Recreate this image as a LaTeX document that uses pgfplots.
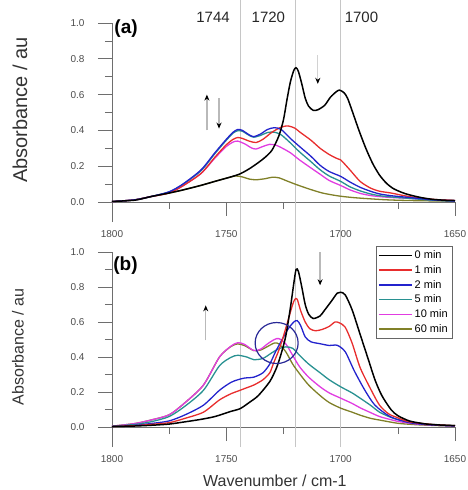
\documentclass[border=0pt]{standalone}
\usepackage{fontspec}
\setmainfont{Liberation Sans}
\usepackage{pgfplots}
\pgfplotsset{compat=1.18}
\usetikzlibrary{arrows.meta}
\definecolor{cRed}{RGB}{232,45,45}
\definecolor{cBlue}{RGB}{35,35,205}
\definecolor{cTeal}{RGB}{40,145,145}
\definecolor{cMag}{RGB}{225,60,225}
\definecolor{cOlive}{RGB}{128,128,40}
\definecolor{cCirc}{RGB}{40,40,150}
\definecolor{axgray}{RGB}{110,110,110}

\tikzset{grarrow/.style={gray!55, line width=1.4pt, -{Stealth[black, length=6pt, width=5pt]}}}
\pgfplotsset{
  spec/.style={
    scale only axis, width=343pt,
    x dir=reverse, xmin=1650, xmax=1800, ymax=1.0,
    axis y line=left, axis x line=middle,
    hide obscured x ticks=false, hide obscured y ticks=false,
    axis line style={-, axgray, line width=0.6pt},
    xtick={1650,1700,1750,1800}, minor xtick={1675,1725,1775},
    ytick={0,0.2,0.4,0.6,0.8,1.0}, minor ytick={0.1,0.3,0.5,0.7,0.9},
    tick align=outside, major tick length=14pt, minor tick length=7pt,
    tick style={axgray, line width=0.6pt},
    /pgf/number format/assume math mode=true,
    /pgf/number format/1000 sep={},
    yticklabel style={/pgf/number format/fixed, /pgf/number format/fixed zerofill, /pgf/number format/precision=1},
    ticklabel style={font=\fontsize{10}{11}\selectfont, text=black!70},
    xticklabel style={yshift=-11pt},
    yticklabel style={xshift=-10pt},
    clip=false,
    every axis plot/.append style={line width=1.3pt, smooth, tension=0.45, no markers},
  },
  vline/.style={gray!45, line width=0.5pt, forget plot, sharp plot},
}

\begin{document}
\begin{tikzpicture}
% ---------------- panel (a)
\begin{axis}[spec, height=199pt, ymin=-0.112,
  ylabel={Absorbance / au},
  ylabel style={at={(axis description cs:-0.268,0.563)}, anchor=center, font=\fontsize{20}{22}\selectfont, text=black!80},
]
\addplot[vline] coordinates {(1744,-0.112) (1744,1.13)};
\addplot[vline] coordinates {(1720,-0.112) (1720,1.13)};
\addplot[vline] coordinates {(1700,-0.112) (1700,1.13)};
% 60 min
\addplot[cOlive] coordinates {(1800,0.002) (1790,0.012) (1783,0.03) (1775,0.05) (1769,0.067) (1761,0.093) (1755,0.115) (1750,0.133) (1746,0.145) (1743,0.14) (1740,0.128) (1737,0.124) (1733,0.13) (1730,0.138) (1727,0.135) (1724,0.12) (1720,0.1) (1716,0.082) (1712,0.065) (1708,0.05) (1704,0.04) (1700,0.032) (1695,0.025) (1690,0.02) (1680,0.012) (1670,0.008) (1650,0.004)};
% 10 min
\addplot[cMag] coordinates {(1800,0.002) (1790,0.012) (1783,0.03) (1775,0.052) (1769,0.09) (1761,0.16) (1755,0.245) (1750,0.31) (1747,0.335) (1745,0.34) (1742,0.325) (1739,0.302) (1737,0.296) (1734,0.31) (1731,0.322) (1728,0.316) (1725,0.297) (1722,0.275) (1718,0.235) (1713,0.19) (1709,0.155) (1705,0.12) (1700,0.092) (1696,0.068) (1691.5,0.048) (1687,0.036) (1683,0.03) (1678,0.025) (1670,0.02) (1660,0.012) (1650,0.008)};
% 5 min
\addplot[cTeal] coordinates {(1800,0.002) (1790,0.012) (1783,0.03) (1775,0.056) (1769,0.098) (1761,0.175) (1755,0.27) (1750,0.345) (1747,0.385) (1745,0.398) (1743,0.395) (1740,0.372) (1738,0.362) (1735,0.372) (1732,0.388) (1729,0.39) (1726,0.375) (1722,0.33) (1718,0.28) (1713,0.225) (1709,0.18) (1705,0.145) (1700,0.115) (1696,0.085) (1691.5,0.062) (1687,0.045) (1683,0.035) (1678,0.028) (1670,0.02) (1660,0.01) (1650,0.005)};
% 1 min
\addplot[cRed] coordinates {(1800,0.002) (1790,0.012) (1783,0.03) (1775,0.05) (1769,0.09) (1761,0.16) (1755,0.25) (1750,0.32) (1747,0.35) (1745,0.36) (1743,0.355) (1740,0.34) (1737,0.332) (1734,0.35) (1730,0.39) (1726,0.418) (1723,0.425) (1720,0.412) (1718,0.392) (1713,0.345) (1709,0.3) (1705,0.265) (1702,0.245) (1700,0.235) (1696,0.18) (1691.5,0.115) (1687,0.078) (1683,0.06) (1678,0.05) (1670,0.03) (1660,0.015) (1650,0.008)};
% 2 min
\addplot[cBlue] coordinates {(1800,0.002) (1790,0.012) (1783,0.03) (1775,0.057) (1769,0.1) (1761,0.18) (1755,0.275) (1750,0.35) (1747,0.39) (1745,0.405) (1743,0.4) (1740,0.375) (1738,0.365) (1735,0.38) (1732,0.405) (1729,0.415) (1726,0.405) (1722,0.355) (1718,0.31) (1713,0.255) (1709,0.205) (1705,0.17) (1700,0.143) (1696,0.112) (1691.5,0.082) (1687,0.06) (1683,0.045) (1678,0.035) (1670,0.025) (1660,0.012) (1650,0.005)};
% 0 min
\addplot[black, line width=1.5pt] coordinates {(1800,0.003) (1790,0.01) (1783,0.03) (1775,0.05) (1769,0.067) (1761,0.093) (1755,0.115) (1748,0.14) (1744,0.157) (1740,0.185) (1736,0.22) (1733,0.25) (1730,0.29) (1727,0.37) (1725,0.46) (1723.5,0.57) (1722,0.67) (1720.5,0.735) (1719.5,0.75) (1718.5,0.73) (1717,0.66) (1715.5,0.58) (1714,0.535) (1712,0.512) (1710,0.515) (1707,0.54) (1704.5,0.585) (1702,0.615) (1700.5,0.625) (1698.5,0.61) (1697,0.58) (1695,0.51) (1692,0.4) (1689,0.3) (1686,0.215) (1683,0.15) (1680,0.105) (1677,0.075) (1673,0.052) (1670,0.04) (1665,0.025) (1660,0.015) (1655,0.01) (1650,0.008)};
\node[font=\fontsize{19}{20}\selectfont\bfseries, anchor=west, inner sep=0pt] at (axis cs:1799,0.97) {(a)};
\node[font=\fontsize{15}{16}\selectfont, text=black!85] at (axis cs:1755.8,1.03) {1744};
\node[font=\fontsize{15}{16}\selectfont, text=black!85] at (axis cs:1731.6,1.03) {1720};
\node[font=\fontsize{15}{16}\selectfont, text=black!85] at (axis cs:1690.9,1.03) {1700};
\draw[grarrow] (axis cs:1758.5,0.40) -- (axis cs:1758.5,0.60);
\draw[grarrow] (axis cs:1753.2,0.58) -- (axis cs:1753.2,0.41);
\draw[gray!35, line width=1.2pt, -{Stealth[black, length=6pt, width=5pt]}] (axis cs:1710,0.82) -- (axis cs:1710,0.66);
\end{axis}

% ---------------- panel (b)
\begin{axis}[spec, height=195pt, ymin=-0.114, at={(0,-225pt)},
  ylabel={Absorbance / au},
  ylabel style={at={(axis description cs:-0.274,0.513)}, anchor=center, font=\fontsize{16}{18}\selectfont, text=black!80},
  xlabel={Wavenumber / cm-1},
  xlabel style={at={(axis description cs:0.475,-0.175)}, anchor=center, font=\fontsize{16}{18}\selectfont, text=black!80},
  legend style={at={(0.991,1.029)}, anchor=north east, draw=black!60, fill=white,
    font=\fontsize{11}{12}\selectfont, row sep=1.3pt, inner sep=2pt,
    nodes={inner sep=2pt}},
  legend cell align=left,
  legend image code/.code={\draw[#1, line width=1.5pt, sharp plot] (0cm,0cm) -- (1.16cm,0cm);},
  reverse legend,
]
\addplot[vline] coordinates {(1744,-0.114) (1744,1.2)};
\addplot[vline] coordinates {(1720,-0.114) (1720,1.2)};
\addplot[vline] coordinates {(1700,-0.114) (1700,1.2)};
% 60 min
\addplot[cOlive] coordinates {(1800,0.005) (1790,0.02) (1783,0.04) (1775,0.07) (1768,0.14) (1760,0.24) (1753,0.4) (1748,0.46) (1745,0.475) (1742,0.465) (1738,0.437) (1735,0.44) (1732,0.46) (1729,0.48) (1727,0.475) (1724,0.43) (1721,0.36) (1718,0.305) (1714,0.24) (1709,0.18) (1705,0.14) (1700,0.108) (1695,0.085) (1691.5,0.068) (1687,0.05) (1683,0.04) (1678,0.028) (1674,0.02) (1665,0.012) (1650,0.005)};
\addlegendentry{60 min}
% 10 min
\addplot[cMag] coordinates {(1800,0.005) (1790,0.02) (1783,0.04) (1775,0.07) (1768,0.14) (1760,0.24) (1753,0.4) (1748,0.462) (1745,0.482) (1742,0.472) (1738,0.437) (1735,0.445) (1732,0.475) (1729,0.5) (1727,0.505) (1724,0.475) (1721,0.41) (1718,0.345) (1714,0.285) (1709,0.23) (1705,0.195) (1700,0.165) (1695,0.135) (1691.5,0.11) (1687,0.083) (1683,0.06) (1678,0.042) (1674,0.03) (1665,0.015) (1650,0.006)};
\addlegendentry{10 min}
% 5 min
\addplot[cTeal] coordinates {(1800,0.004) (1790,0.015) (1783,0.03) (1775,0.06) (1768,0.12) (1760,0.21) (1753,0.35) (1748,0.398) (1745,0.41) (1741,0.4) (1738,0.385) (1734,0.392) (1730,0.425) (1727,0.448) (1724,0.458) (1721,0.45) (1718,0.41) (1714,0.36) (1709,0.31) (1705,0.27) (1700,0.23) (1695,0.195) (1691.5,0.165) (1687,0.125) (1683,0.085) (1678,0.055) (1674,0.04) (1665,0.02) (1650,0.008)};
\addlegendentry{5 min}
% 2 min
\addplot[cBlue] coordinates {(1800,0.003) (1790,0.01) (1783,0.02) (1775,0.035) (1768,0.07) (1760,0.125) (1753,0.21) (1748,0.255) (1745,0.27) (1742,0.28) (1738,0.285) (1734,0.31) (1731,0.36) (1728.5,0.43) (1726,0.49) (1723,0.56) (1720.5,0.6) (1719,0.608) (1717.5,0.58) (1715.5,0.515) (1713,0.487) (1709,0.476) (1705,0.466) (1701.5,0.467) (1698,0.43) (1694,0.32) (1689.4,0.21) (1685,0.125) (1678.4,0.06) (1670,0.025) (1660,0.012) (1650,0.006)};
\addlegendentry{2 min}
% 1 min
\addplot[cRed] coordinates {(1800,0.003) (1790,0.008) (1783,0.015) (1775,0.025) (1768,0.05) (1760,0.085) (1753,0.155) (1748,0.19) (1745,0.205) (1742,0.22) (1738,0.24) (1734,0.27) (1731,0.31) (1729.5,0.36) (1727,0.44) (1725,0.52) (1723,0.61) (1721,0.7) (1720,0.73) (1719,0.73) (1717.5,0.665) (1715.5,0.6) (1713.5,0.562) (1711,0.55) (1708,0.558) (1705,0.575) (1702.5,0.6) (1700.5,0.595) (1698,0.57) (1695,0.48) (1691.5,0.34) (1687,0.22) (1683,0.125) (1679,0.075) (1676,0.058) (1670,0.03) (1660,0.015) (1650,0.008)};
\addlegendentry{1 min}
% 0 min
\addplot[black, line width=1.5pt] coordinates {(1800,0.003) (1790,0.006) (1783,0.01) (1775,0.017) (1768,0.03) (1761.5,0.043) (1755,0.06) (1748.4,0.088) (1744,0.105) (1740,0.14) (1736,0.18) (1731,0.26) (1728,0.34) (1726,0.42) (1724,0.52) (1722,0.68) (1720.5,0.82) (1719.5,0.9) (1718.5,0.89) (1717,0.8) (1715.5,0.7) (1714,0.645) (1712,0.62) (1709,0.635) (1707,0.668) (1704,0.72) (1701.5,0.765) (1700,0.77) (1698,0.755) (1695,0.67) (1691.5,0.53) (1688,0.39) (1685,0.27) (1682,0.18) (1678,0.1) (1675,0.065) (1670,0.035) (1665,0.022) (1660,0.014) (1650,0.008)};
\addlegendentry{0 min}
\node[font=\fontsize{19}{20}\selectfont\bfseries, anchor=west, inner sep=0pt] at (axis cs:1799.5,0.925) {(b)};
\draw[grarrow] (axis cs:1759,0.495) -- (axis cs:1759,0.695);
\draw[gray!55, line width=1.2pt, -{Stealth[black, length=6pt, width=5pt]}] (axis cs:1709,1.0) -- (axis cs:1709,0.81);
\draw[cCirc, line width=1.2pt] (axis cs:1728,0.48) ellipse [x radius=21.5pt, y radius=20.5pt];
\end{axis}
\pgfresetboundingbox
\useasboundingbox (-112pt,-268pt) rectangle (355pt,222pt);
\end{tikzpicture}
\end{document}
